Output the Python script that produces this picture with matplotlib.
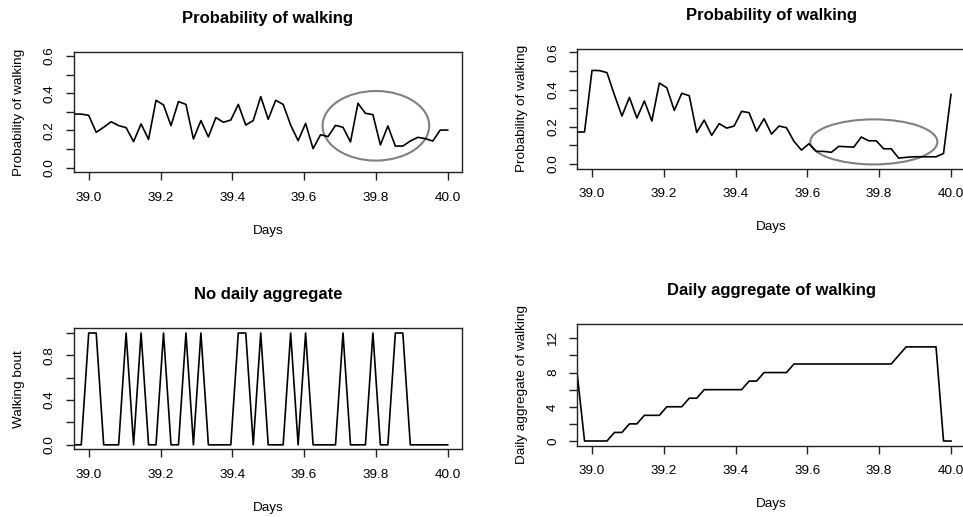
import numpy as np
import matplotlib
matplotlib.use("Agg")
import matplotlib.pyplot as plt
from matplotlib.patches import Ellipse

plt.rcParams["font.family"] = ["Liberation Sans", "DejaVu Sans"]

# Half-hourly samples: day 39 - 2/48 through day 40
days = 39 + np.arange(-2, 49) / 48.0

# Raw probability of walking per half hour
prob_raw = [0.288, 0.281, 0.190, 0.217, 0.247, 0.226, 0.215, 0.140, 0.235, 0.152,
            0.362, 0.337, 0.226, 0.355, 0.340, 0.154, 0.253, 0.165, 0.269, 0.244,
            0.256, 0.340, 0.229, 0.253, 0.382, 0.260, 0.362, 0.340, 0.229, 0.145,
            0.238, 0.102, 0.177, 0.167, 0.227, 0.217, 0.138, 0.346, 0.292, 0.285,
            0.122, 0.224, 0.116, 0.116, 0.143, 0.163, 0.156, 0.143, 0.202, 0.202]
# the first raw sample sits two steps before day 39
prob_raw = [prob_raw[0]] + prob_raw

# Probability of walking, model with daily aggregate
prob_agg = [0.172, 0.172, 0.503, 0.502, 0.491, 0.371, 0.258, 0.358, 0.247, 0.339,
            0.231, 0.435, 0.410, 0.288, 0.380, 0.367, 0.170, 0.236, 0.154, 0.217,
            0.193, 0.204, 0.283, 0.276, 0.176, 0.244, 0.161, 0.204, 0.195, 0.122,
            0.075, 0.109, 0.068, 0.068, 0.063, 0.095, 0.093, 0.091, 0.145, 0.125,
            0.125, 0.082, 0.082, 0.032, 0.036, 0.039, 0.039, 0.039, 0.039, 0.057,
            0.374]

# Observed walking bouts (1 = walking)
bouts = [0, 0,
         1, 1, 0, 0, 0, 1, 0, 1, 0, 0,
         1, 0, 0, 1, 0, 1, 0, 0, 0, 0,
         1, 1, 0, 1, 0, 0, 0, 1, 0, 1,
         0, 0, 0, 0, 1, 0, 0, 0, 1, 0,
         0, 1, 1, 0, 0, 0, 0, 0, 0]

# Running daily count of walking bouts
daily_agg = [8, 0,
             0, 0, 0, 1, 1, 2, 2, 3, 3, 3,
             4, 4, 4, 5, 5, 6, 6, 6, 6, 6,
             6, 7, 7, 8, 8, 8, 8, 9, 9, 9,
             9, 9, 9, 9, 9, 9, 9, 9, 9, 9,
             9, 10, 11, 11, 11, 11, 11, 0, 0]

x_ticks = [39.0, 39.2, 39.4, 39.6, 39.8, 40.0]
x_tick_labels = ["39.0", "39.2", "39.4", "39.6", "39.8", "40.0"]

# ellipses: (centre day, centre value, width in days, height)
circle_raw = (39.80, 0.225, 0.297, 0.374)
circle_agg = (39.785, 0.119, 0.354, 0.242)

W, H = 963, 517
fig = plt.figure(figsize=(W / 100, H / 100), dpi=100)


def box(x0, y0, x1, y1):
    return [x0 / W, 1 - y1 / H, (x1 - x0) / W, (y1 - y0) / H]


TICK = 9.7
XLIM = (38.959, 40.039)


def style(ax, title, ylabel, yticks, ylabels, ylim):
    ax.set_xlim(*XLIM)
    ax.set_ylim(*ylim)
    ax.set_xticks(x_ticks)
    ax.set_xticklabels(x_tick_labels)
    ax.set_yticks(yticks)
    ax.set_yticklabels(ylabels)
    ax.tick_params(axis="both", direction="out", length=6, width=1.0,
                   labelsize=TICK, color="#222222")
    ax.tick_params(axis="x", pad=8)
    ax.tick_params(axis="y", pad=7, labelrotation=90)
    for lab in ax.get_yticklabels():
        lab.set_va("center")
    for s in ax.spines.values():
        s.set_linewidth(1.0)
        s.set_color("#222222")
    ax.set_title(title, fontsize=12, fontweight="bold", pad=21)
    ax.set_xlabel("Days", fontsize=TICK, labelpad=15)
    ax.set_ylabel(ylabel, fontsize=TICK, labelpad=14)


LINE = dict(color="black", lw=1.2)

prob_ticks = [0.0, 0.1, 0.2, 0.3, 0.4, 0.5, 0.6]
prob_labels = ["0.0", "", "0.2", "", "0.4", "", "0.6"]

# top left: raw probability
ax1 = fig.add_axes(box(74, 52.3, 461.7, 172.3))
ax1.plot(days, prob_raw, **LINE)
style(ax1, "Probability of walking", "Probability of walking",
      prob_ticks, prob_labels, (-0.025, 0.62))
cx, cy, w, h = circle_raw
ax1.add_patch(Ellipse((cx, cy), w, h, fill=False, ec="#808080", lw=1.5))

# top right: probability with daily aggregate
ax2 = fig.add_axes(box(577.3, 49, 965, 168.7))
ax2.plot(days, prob_agg, **LINE)
style(ax2, "Probability of walking", "Probability of walking",
      prob_ticks, prob_labels, (-0.025, 0.618))
cx, cy, w, h = circle_agg
ax2.add_patch(Ellipse((cx, cy), w, h, fill=False, ec="#808080", lw=1.5))

# bottom left: walking bouts
ax3 = fig.add_axes(box(74, 328.3, 461.7, 449.3))
ax3.plot(days, bouts, **LINE)
style(ax3, "No daily aggregate", "Walking bout",
      [0.0, 0.2, 0.4, 0.6, 0.8, 1.0], ["0.0", "", "0.4", "", "0.8", ""],
      (-0.04, 1.042))

# bottom right: daily aggregate
ax4 = fig.add_axes(box(577.3, 324.3, 965, 445.7))
ax4.plot(days, daily_agg, **LINE)
style(ax4, "Daily aggregate of walking", "Daily aggregate of walking",
      [0, 2, 4, 6, 8, 10, 12], ["0", "", "4", "", "8", "", "12"],
      (-0.55, 13.64))

fig.savefig("out.png", dpi=100)
